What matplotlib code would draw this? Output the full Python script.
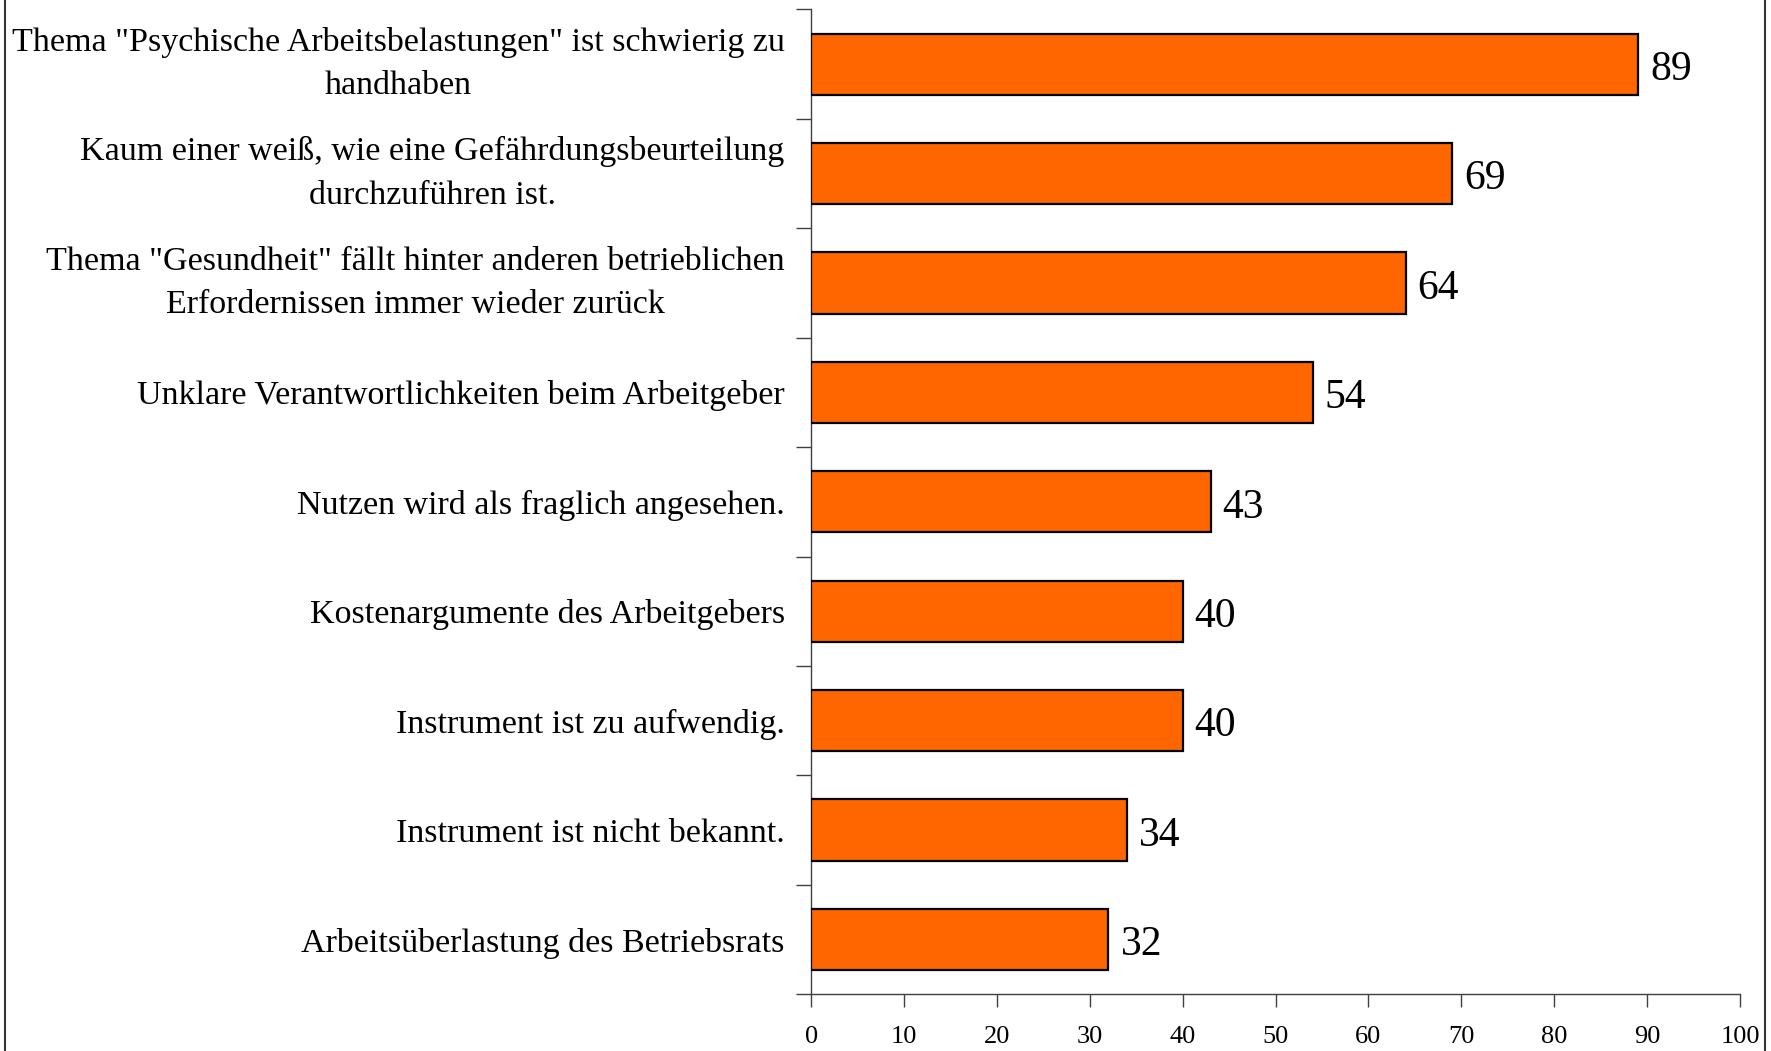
import matplotlib
matplotlib.use("Agg")
import matplotlib.pyplot as plt
from matplotlib.lines import Line2D
import numpy as np

categories = [
    'Thema "Psychische Arbeitsbelastungen" ist schwierig zu\nhandhaben',
    'Kaum einer weiß, wie eine Gefährdungsbeurteilung\ndurchzuführen ist.',
    'Thema "Gesundheit" fällt hinter anderen betrieblichen\nErfordernissen immer wieder zurück',
    'Unklare Verantwortlichkeiten beim Arbeitgeber',
    'Nutzen wird als fraglich angesehen.',
    'Kostenargumente des Arbeitgebers',
    'Instrument ist zu aufwendig.',
    'Instrument ist nicht bekannt.',
    'Arbeitsüberlastung des Betriebsrats',
]
values = [89, 69, 64, 54, 43, 40, 40, 34, 32]
xticks = [0, 10, 20, 30, 40, 50, 60, 70, 80, 90, 100]

plt.rcParams['font.family'] = ['Liberation Serif', 'DejaVu Serif']

fig = plt.figure(figsize=(17.71, 10.51), dpi=100)
ax = fig.add_axes([0.458, 0.054, 0.9825 - 0.458, 0.991 - 0.054])

n = len(categories)
y = np.arange(n)[::-1]
ax.barh(y, values, height=0.56, color='#FF6600', edgecolor='black', linewidth=1.6, zorder=3)

for yi, v in zip(y, values):
    ax.text(v + 1.3, yi - 0.05, str(v), va='center', ha='left', fontsize=30)

ax.set_xlim(0, 100)
ax.set_ylim(-0.5, n - 0.5)

ax.set_yticks(y)
ax.set_yticklabels(categories, fontsize=24.5, multialignment='center', linespacing=1.55)
for lab in ax.get_yticklabels():
    if '\n' in lab.get_text():
        lab.set_verticalalignment('center')
ax.set_yticks(np.arange(-0.5, n, 1.0), minor=True)
ax.tick_params(axis='y', which='major', length=0, pad=19)
ax.tick_params(axis='y', which='minor', length=11, width=1, color='#404040', direction='out')

ax.set_xticks(xticks)
ax.set_xticklabels([str(t) for t in xticks], fontsize=19)
ax.tick_params(axis='x', which='major', length=9, width=1, color='#404040', direction='out', pad=14)

for s in ['top', 'right']:
    ax.spines[s].set_visible(False)
for s in ['left', 'bottom']:
    ax.spines[s].set_color('#404040')
    ax.spines[s].set_linewidth(1.0)

# frame lines of the original image
fig.add_artist(Line2D([5 / 1771, 5 / 1771], [0, 1], transform=fig.transFigure, color='#333333', lw=1.5))
fig.add_artist(Line2D([1765 / 1771, 1765 / 1771], [0, 1], transform=fig.transFigure, color='#333333', lw=1.5))

fig.savefig('out.png', dpi=100)
